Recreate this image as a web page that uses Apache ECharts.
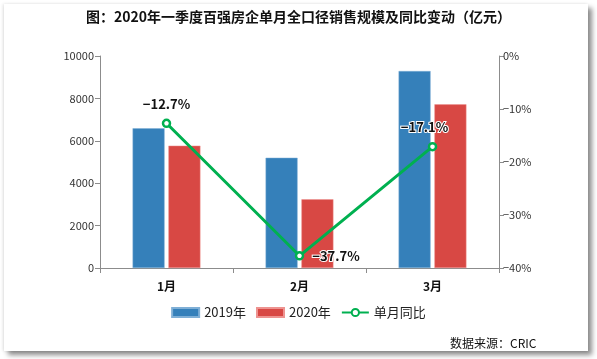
<!DOCTYPE html>
<html>
<head>
<meta charset="utf-8">
<script src="https://cdn.jsdelivr.net/npm/echarts@6/dist/echarts.min.js"></script>
<style>
html,body{margin:0;padding:0;background:#fff;width:597px;height:359px;overflow:hidden;}
#frame{position:absolute;left:4px;top:4px;width:584px;height:347px;background:#fff;
box-shadow:4px 4px 5px rgba(0,0,0,0.45), -1px 0 3px rgba(0,0,0,0.12);}
#main{position:absolute;left:0;top:0;width:597px;height:359px;}
</style>
</head>
<body>
<div id="frame"></div>
<div id="main"></div>
<script>
const titleText = '图：2020年一季度百强房企单月全口径销售规模及同比变动（亿元）';
const categories = ['1月', '2月', '3月'];
const sales2019 = [6590, 5200, 9290];
const sales2020 = [5770, 3240, 7720];
const yoyChange = [-12.7, -37.7, -17.1];
const seriesNames = ['2019年', '2020年', '单月同比'];
const sourceText = '数据来源：CRIC';

const chart = echarts.init(document.getElementById('main'), null, {renderer: 'canvas'});
const font = '"Noto Sans CJK SC", "Liberation Sans", sans-serif';
const axisColor = '#8c8c8c';
const labelPositions = ['top', 'right', 'top'];
const fmtPct = v => (v < 0 ? '\u2212' + Math.abs(v) : v) + '%';

chart.setOption({
  backgroundColor: 'transparent',
  textStyle: {fontFamily: font},
  title: {
    text: titleText,
    left: 'center',
    top: 5,
    textStyle: {fontSize: 14, fontWeight: 'bold', color: '#111', fontFamily: font}
  },
  legend: {
    data: seriesNames.map((n, i) => ({name: n, icon: i < 2 ? 'rect' : undefined})),
    top: 301,
    left: 'center',
    itemWidth: 27,
    itemHeight: 9,
    itemGap: 10,
    textStyle: {fontSize: 13, color: '#222', fontFamily: font}
  },
  grid: {left: 100, right: 98, top: 56, bottom: 91},
  xAxis: {
    type: 'category',
    data: categories,
    axisLine: {lineStyle: {color: axisColor, width: 1}},
    axisTick: {show: true, length: 5, lineStyle: {color: axisColor}},
    axisLabel: {fontSize: 12, fontWeight: 'bold', color: '#111', margin: 12}
  },
  yAxis: [
    {
      type: 'value', min: 0, max: 10000, interval: 2000,
      axisLine: {show: true, lineStyle: {color: axisColor}},
      axisTick: {show: true, length: 5, lineStyle: {color: axisColor}},
      axisLabel: {fontSize: 11, color: '#333', margin: 6, formatter: v => String(v)},
      splitLine: {show: false}
    },
    {
      type: 'value', min: -40, max: 0, interval: 10, position: 'right',
      axisLine: {show: true, lineStyle: {color: axisColor}},
      axisTick: {show: true, length: 5, lineStyle: {color: axisColor}},
      axisLabel: {fontSize: 11, color: '#333', margin: 4, formatter: fmtPct},
      splitLine: {show: false}
    }
  ],
  series: [
    {
      name: seriesNames[0], type: 'bar', data: sales2019,
      barWidth: 32, barGap: '12%',
      itemStyle: {color: '#3580BA', borderColor: '#7FAFD6', borderWidth: 0.5}
    },
    {
      name: seriesNames[1], type: 'bar', data: sales2020,
      barWidth: 32, barGap: '12%',
      itemStyle: {color: '#D84844', borderColor: '#EE9390', borderWidth: 0.5}
    },
    {
      name: seriesNames[2], type: 'line', yAxisIndex: 1,
      data: yoyChange.map((v, i) => ({value: v, label: {position: labelPositions[i], offset: i === 2 ? [-8, 0] : [0, 0]}})),
      symbol: 'circle', symbolSize: 7,
      lineStyle: {color: '#00B050', width: 3},
      itemStyle: {color: '#fff', borderColor: '#00B050', borderWidth: 2.5},
      label: {
        show: true, fontSize: 13, fontWeight: 'bold', color: '#111',
        distance: 8,
        textBorderColor: '#fff', textBorderWidth: 2,
        formatter: p => fmtPct(p.value)
      },
      z: 5
    }
  ],
  graphic: [
    {
      type: 'text', left: 450, top: 337,
      style: {text: sourceText, fontSize: 12, fill: '#111', fontFamily: font}
    }
  ]
});
</script>
</body>
</html>
